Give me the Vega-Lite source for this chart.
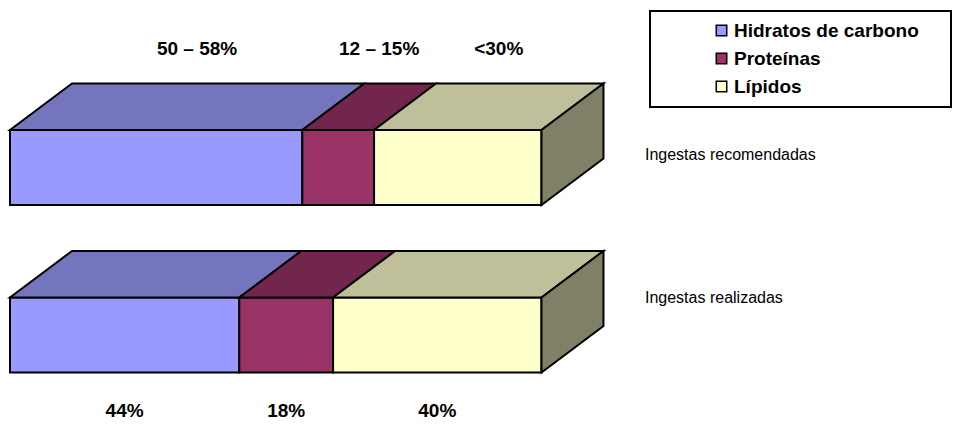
{
  "$schema": "https://vega.github.io/schema/vega-lite/v6.json",
  "width": 962,
  "height": 433,
  "padding": 0,
  "autosize": {"type": "none"},
  "background": "white",
  "config": {
    "view": {"stroke": null},
    "font": "Liberation Sans",
    "legend": {"strokeWidth": 2}
  },
  "data": {
    "values": [
      {"grupo": "Ingestas recomendadas", "nutriente": "Hidratos de carbono", "valor": 55, "etiqueta": "50 – 58%"},
      {"grupo": "Ingestas recomendadas", "nutriente": "Proteínas", "valor": 13.5, "etiqueta": "12 – 15%"},
      {"grupo": "Ingestas recomendadas", "nutriente": "Lípidos", "valor": 31.5, "etiqueta": "<30%"},
      {"grupo": "Ingestas realizadas", "nutriente": "Hidratos de carbono", "valor": 44, "etiqueta": "44%"},
      {"grupo": "Ingestas realizadas", "nutriente": "Proteínas", "valor": 18, "etiqueta": "18%"},
      {"grupo": "Ingestas realizadas", "nutriente": "Lípidos", "valor": 40, "etiqueta": "40%"}
    ]
  },
  "transform": [
    {"calculate": "indexof(['Hidratos de carbono','Proteínas','Lípidos'], datum.nutriente)", "as": "orden"},
    {"calculate": "datum.grupo === 'Ingestas recomendadas' ? 0 : 1", "as": "fila"},
    {"stack": "valor", "groupby": ["grupo"], "sort": [{"field": "orden", "order": "ascending"}], "offset": "normalize", "as": ["x0", "x1"]},
    {"calculate": "datum.fila - 0.2239", "as": "yf_top"},
    {"calculate": "datum.fila + 0.2239", "as": "yf_bot"}
  ],
  "layer": [
    {
      "mark": {"type": "rect", "stroke": "black", "strokeWidth": 2},
      "encoding": {
        "x": {"field": "x0", "type": "quantitative", "scale": {"domain": [-0.01881, 1.79116], "nice": false, "zero": false}, "axis": null},
        "x2": {"field": "x1"},
        "y": {"field": "yf_top", "type": "quantitative", "scale": {"domain": [-1, 1.5851], "nice": false, "zero": false, "reverse": true}, "axis": null},
        "y2": {"field": "yf_bot"},
        "color": {
          "field": "nutriente",
          "type": "nominal",
          "sort": ["Hidratos de carbono", "Proteínas", "Lípidos"],
          "scale": {"domain": ["Hidratos de carbono", "Proteínas", "Lípidos"], "range": ["#9999FF", "#993366", "#FFFFCC"]},
          "legend": {
            "title": " ",
            "titleOrient": "right",
            "titlePadding": 22,
            "titleFontSize": 19,
            "orient": "none",
            "legendX": 650,
            "legendY": 11,
            "padding": 10,
            "strokeColor": "black",
            "fillColor": "white",
            "symbolType": "square",
            "symbolSize": 110,
            "symbolOffset": 52,
            "symbolStrokeColor": "black",
            "symbolStrokeWidth": 1.5,
            "labelFont": "Liberation Sans",
            "labelFontWeight": "bold",
            "labelFontSize": 19,
            "labelColor": "black",
            "labelLimit": 400,
            "labelOffset": 3,
            "rowPadding": 8,
            "encode": {"symbols": {"update": {"stroke": {"value": "black"}, "strokeWidth": {"value": 1.5}}}}
          }
        }
      }
    },
    {
      "transform": [
        {"calculate": "0", "as": "p0"},
        {"calculate": "1", "as": "p1"},
        {"fold": ["p0", "p1"], "as": ["lado", "p"]},
        {"calculate": "datum.x0 + datum.p * 0.1166", "as": "xa"},
        {"calculate": "datum.x1 + datum.p * 0.1166", "as": "xb"},
        {"calculate": "datum.yf_top - datum.p * 0.2776", "as": "yy"}
      ],
      "mark": {"type": "area", "orient": "horizontal", "stroke": "black", "strokeWidth": 2, "strokeJoin": "miter"},
      "encoding": {
        "x": {"field": "xa", "type": "quantitative", "scale": {"domain": [-0.01881, 1.79116], "nice": false, "zero": false}, "axis": null},
        "x2": {"field": "xb"},
        "y": {"field": "yy", "type": "quantitative", "scale": {"domain": [-1, 1.5851], "nice": false, "zero": false, "reverse": true}, "axis": null},
        "detail": [{"field": "grupo"}, {"field": "nutriente"}],
        "fill": {
          "field": "nutriente",
          "type": "nominal",
          "scale": {"domain": ["Hidratos de carbono", "Proteínas", "Lípidos"], "range": ["#7575BD", "#73264D", "#BFBF99"]},
          "legend": null
        }
      }
    },
    {
      "transform": [
        {"filter": "datum.nutriente === 'Lípidos'"},
        {"calculate": "0", "as": "p0"},
        {"calculate": "1", "as": "p1"},
        {"fold": ["p0", "p1"], "as": ["lado", "p"]},
        {"calculate": "datum.x1 + datum.p * 0.1166", "as": "xs"},
        {"calculate": "datum.yf_top - datum.p * 0.2776", "as": "ya"},
        {"calculate": "datum.yf_bot - datum.p * 0.2776", "as": "yb"}
      ],
      "mark": {"type": "area", "orient": "vertical", "stroke": "black", "strokeWidth": 2, "fill": "#808066", "strokeJoin": "miter"},
      "encoding": {
        "x": {"field": "xs", "type": "quantitative", "scale": {"domain": [-0.01881, 1.79116], "nice": false, "zero": false}, "axis": null},
        "y": {"field": "ya", "type": "quantitative", "scale": {"domain": [-1, 1.5851], "nice": false, "zero": false, "reverse": true}, "axis": null},
        "y2": {"field": "yb"},
        "detail": {"field": "grupo"}
      }
    },
    {
      "transform": [
        {"calculate": "(datum.x0 + datum.x1) / 2 + (datum.fila === 0 ? 0.077 : 0)", "as": "xl"},
        {"calculate": "datum.fila === 0 ? datum.yf_top - 0.2776 - 0.206 : datum.yf_bot + 0.23", "as": "yl"}
      ],
      "mark": {"type": "text", "font": "Liberation Sans", "fontWeight": "bold", "fontSize": 19, "color": "black", "align": "center", "baseline": "middle"},
      "encoding": {
        "x": {"field": "xl", "type": "quantitative", "scale": {"domain": [-0.01881, 1.79116], "nice": false, "zero": false}, "axis": null},
        "y": {"field": "yl", "type": "quantitative", "scale": {"domain": [-1, 1.5851], "nice": false, "zero": false, "reverse": true}, "axis": null},
        "text": {"field": "etiqueta"}
      }
    },
    {
      "transform": [
        {"filter": "datum.nutriente === 'Lípidos'"},
        {"calculate": "datum.x1 + 0.1947", "as": "xr"},
        {"calculate": "datum.fila * 0.854 - 0.075", "as": "yr"}
      ],
      "mark": {"type": "text", "font": "Liberation Sans", "fontSize": 16, "color": "black", "align": "left", "baseline": "middle"},
      "encoding": {
        "x": {"field": "xr", "type": "quantitative", "scale": {"domain": [-0.01881, 1.79116], "nice": false, "zero": false}, "axis": null},
        "y": {"field": "yr", "type": "quantitative", "scale": {"domain": [-1, 1.5851], "nice": false, "zero": false, "reverse": true}, "axis": null},
        "text": {"field": "grupo"}
      }
    }
  ]
}
